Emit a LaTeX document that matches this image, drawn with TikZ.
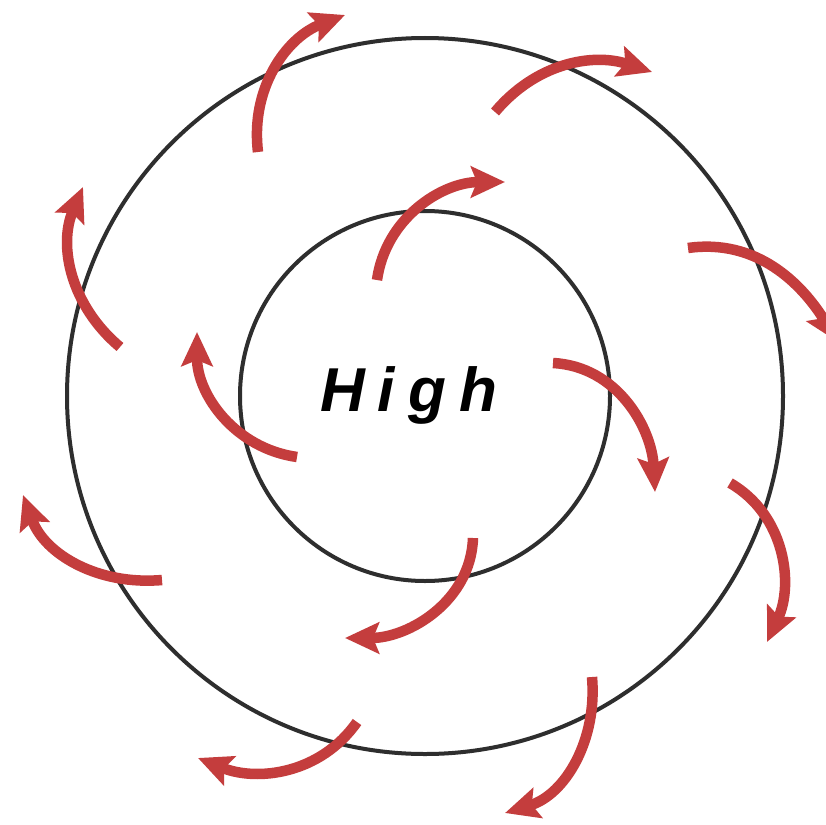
\documentclass[tikz,border=0pt]{standalone}
\usepackage{fontspec}
\setmainfont{Liberation Sans}
\usetikzlibrary{arrows.meta}
\definecolor{windred}{HTML}{C43D3D}
\definecolor{isobar}{HTML}{2E2E2E}
\begin{document}
\begin{tikzpicture}[x=1pt,y=1pt,
  isobarline/.style={draw=isobar,line width=4pt},
  wind/.style={draw=windred,line width=10.5pt,-{Stealth[length=34pt,width=31pt,inset=6pt]}}]
\useasboundingbox (0,0) rectangle (826,-824);
\clip (0,0) rectangle (826,-824);
\fill[white] (0,0) rectangle (826,-824);
\coordinate (C) at (425,-396);
\draw[isobarline] (C) circle[radius=358];
\draw[isobarline] (C) circle[radius=185];
\node[font=\bfseries\itshape\fontsize{62}{62}\selectfont, anchor=base west, inner sep=0] (label) at (320,-411) {H\hspace{13pt}i\hspace{13pt}g\hspace{13pt}h};
% wind arrows, clockwise and outward
\draw[wind] (258,-152) to[out=97,in=201] (345,-15);
\draw[wind] (495,-112) to[out=50,in=162] (652,-72);
\draw[wind] (377,-280) to[out=82,in=180] (505,-182);
\draw[wind] (688,-248) to[out=8,in=122] (838,-342);
\draw[wind] (120,-347) to[out=140,in=247] (83,-187);
\draw[wind] (297,-457) to[out=172,in=270] (197,-332);
\draw[wind] (553,-363) to[out=-3,in=93] (655,-492);
\draw[wind] (730,-483) to[out=-30,in=65] (767,-642);
\draw[wind] (162,-580) to[out=185,in=290] (23,-495);
\draw[wind] (473,-538) to[out=-92,in=0] (345,-638);
\draw[wind] (357,-722) to[out=235,in=338] (198,-758);
\draw[wind] (592,-677) to[out=-85,in=17] (505,-813);
\end{tikzpicture}
\end{document}
